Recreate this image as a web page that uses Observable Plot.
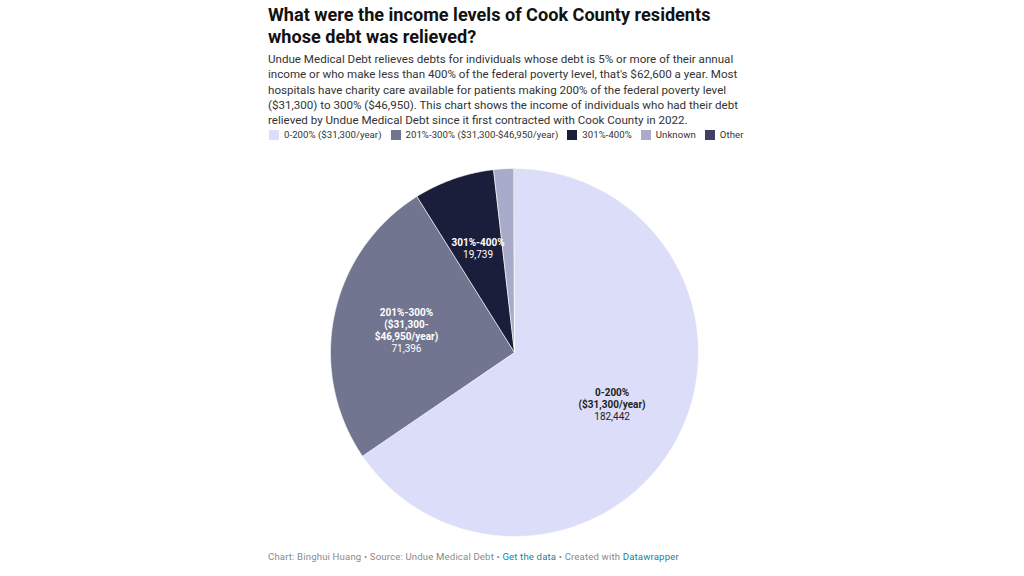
<!DOCTYPE html>
<html>
<head>
<meta charset="utf-8">
<script src="https://cdn.jsdelivr.net/npm/d3@7"></script>
<script src="https://cdn.jsdelivr.net/npm/@observablehq/plot@0.6"></script>
<style>
  html, body { margin: 0; padding: 0; background: #fff; }
  body { width: 1024px; height: 576px; position: relative; overflow: hidden; font-family: Roboto, "Noto Sans", sans-serif; }
  #title { position: absolute; left: 268px; top: 4px; font-size: 18.1px; font-weight: 700; line-height: 22px; color: #111; white-space: nowrap; }
  #subtitle { position: absolute; left: 268px; top: 52px; font-size: 11.6px; line-height: 15.3px; color: #333; white-space: nowrap; }
  #legend { position: absolute; left: 269px; top: 129px; font-size: 9.6px; letter-spacing: 0.05px; color: #333; white-space: nowrap; display: flex; align-items: center; }
  #legend .item { display: flex; align-items: center; margin-right: 9px; }
  #legend .sw { width: 10px; height: 10px; margin-right: 5px; }
  #chart { position: absolute; left: 0; top: 160px; }
  #footer { position: absolute; left: 268px; top: 551px; font-size: 9.6px; letter-spacing: 0.15px; color: #8a8a8a; white-space: nowrap; }
  #footer a { color: #1d81a2; text-decoration: none; }
</style>
</head>
<body>
<div id="title">What were the income levels of Cook County residents<br>whose debt was relieved?</div>
<div id="subtitle">Undue Medical Debt relieves debts for individuals whose debt is 5% or more of their annual<br>income or who make less than 400% of the federal poverty level, that's $62,600 a year. Most<br>hospitals have charity care available for patients making 200% of the federal poverty level<br>($31,300) to 300% ($46,950). This chart shows the income of individuals who had their debt<br>relieved by Undue Medical Debt since it first contracted with Cook County in 2022.</div>
<div id="legend"></div>
<div id="chart"></div>
<div id="footer">Chart: Binghui Huang • Source: Undue Medical Debt • <a>Get the data</a> • Created with <a>Datawrapper</a></div>
<script>
// ---- data ----
const categories = ["0-200% ($31,300/year)", "201%-300% ($31,300-$46,950/year)", "301%-400%", "Unknown", "Other"];
const values = [182442, 71396, 19739, 4900, 150];
const sliceNames = ["0-200%\n($31,300/year)", "201%-300%\n($31,300-\n$46,950/year)", "301%-400%", "", ""];
const valueLabels = ["182,442", "71,396", "19,739", "", ""];
const colors = ["#dcdef9", "#72758f", "#1b1e3b", "#a9abca", "#3e4163"];
const darkText = [true, false, false, false, false];

// legend
const legend = document.getElementById("legend");
categories.forEach((c, i) => {
  const it = document.createElement("div");
  it.className = "item";
  it.innerHTML = `<div class="sw" style="background:${colors[i]}"></div><span>${c}</span>`;
  legend.appendChild(it);
});

// pie geometry from data
const rows = categories.map((c, i) => ({category: c, value: values[i], name: sliceNames[i], label: valueLabels[i], dark: darkText[i]}));
const arcs = d3.pie().sort(null).value(d => d.value)(rows);
const polys = [];
const labelRows = [];
arcs.forEach(a => {
  const c = a.data.category;
  polys.push({category: c, x: 0, y: 0});
  const n = Math.max(2, Math.ceil((a.endAngle - a.startAngle) / (Math.PI / 360)));
  for (let k = 0; k <= n; k++) {
    const t = a.startAngle + (a.endAngle - a.startAngle) * k / n;
    polys.push({category: c, x: Math.sin(t), y: Math.cos(t)});
  }
  polys.push({category: c, x: 0, y: 0});
  if (a.data.name) {
    const m = (a.startAngle + a.endAngle) / 2;
    const lines = a.data.name.split("\n").length;
    labelRows.push({
      x: 0.6 * Math.sin(m), y: 0.6 * Math.cos(m), dark: a.data.dark,
      nameText: a.data.name + "\n ",
      valueText: "\n".repeat(lines) + a.data.label
    });
  }
});

const cx = 514, cy = 352, r = 184, svgTop = 160, W = 1024, H = 384;
const plot = Plot.plot({
  width: W, height: H,
  marginLeft: cx - r, marginRight: W - (cx + r),
  marginTop: (cy - svgTop) - r, marginBottom: H - (cy - svgTop + r),
  x: {domain: [-1, 1], axis: null},
  y: {domain: [-1, 1], axis: null},
  color: {domain: categories, range: colors},
  style: {fontFamily: "Roboto, sans-serif", background: "transparent"},
  marks: [
    Plot.line(polys, {x: "x", y: "y", z: "category", fill: "category", stroke: "white", strokeWidth: 0.6, curve: "linear"}),
    Plot.text(labelRows.filter(d => d.dark), {x: "x", y: "y", text: "nameText", fill: "#222", fontWeight: 700, fontSize: 10, lineHeight: 1.2}),
    Plot.text(labelRows.filter(d => d.dark), {x: "x", y: "y", text: "valueText", fill: "#222", fontSize: 10, lineHeight: 1.2}),
    Plot.text(labelRows.filter(d => !d.dark), {x: "x", y: "y", text: "nameText", fill: "white", fontWeight: 700, fontSize: 10, lineHeight: 1.2}),
    Plot.text(labelRows.filter(d => !d.dark), {x: "x", y: "y", text: "valueText", fill: "white", fontSize: 10, lineHeight: 1.2})
  ]
});
document.getElementById("chart").appendChild(plot);
</script>
</body>
</html>
